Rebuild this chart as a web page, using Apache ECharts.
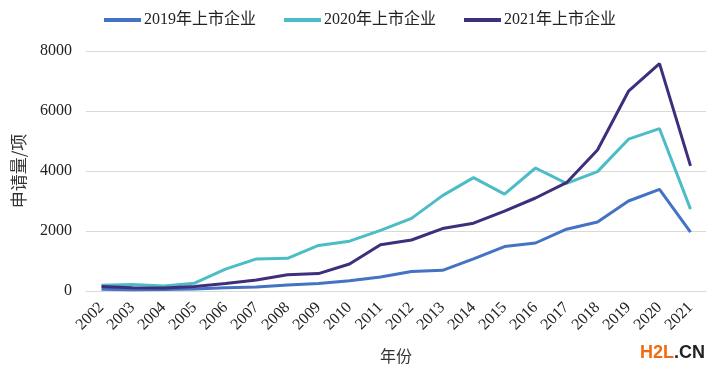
<!DOCTYPE html>
<html>
<head>
<meta charset="utf-8">
<script src="https://cdn.jsdelivr.net/npm/echarts@6/dist/echarts.min.js"></script>
<style>
html,body{margin:0;padding:0;background:#fff;}
#main{width:720px;height:377px;}
</style>
</head>
<body>
<div id="main"></div>
<script>
var years = ['2002','2003','2004','2005','2006','2007','2008','2009','2010','2011',
             '2012','2013','2014','2015','2016','2017','2018','2019','2020','2021'];
var ipo2019 = [60, 40, 50, 70, 110, 130, 200, 250, 340, 470, 650, 690, 1070, 1480, 1600, 2060, 2300, 3000, 3390, 1960];
var ipo2020 = [190, 220, 170, 260, 730, 1070, 1090, 1520, 1660, 2020, 2420, 3180, 3780, 3230, 4100, 3590, 3980, 5060, 5410, 2730];
var ipo2021 = [150, 110, 100, 150, 250, 370, 540, 580, 900, 1540, 1700, 2080, 2260, 2660, 3100, 3610, 4700, 6660, 7580, 4170];
var yTicks = [0, 2000, 4000, 6000, 8000];

var serif = '"Liberation Serif", "Noto Sans CJK SC", serif';
var cjk = '"Noto Sans CJK SC", sans-serif';

var chart = echarts.init(document.getElementById('main'));

function line(name, data, color) {
	return {
		name: name,
		type: 'line',
		data: data,
		symbol: 'none',
		lineStyle: { width: 3, color: color },
		itemStyle: { color: color }
	};
}

var option = {
	animation: false,
	backgroundColor: '#fff',
	legend: {
		top: 7,
		left: 'center',
		itemWidth: 37,
		itemHeight: 4,
		itemGap: 28,
		icon: 'rect',
		textStyle: { fontFamily: serif, fontSize: 16, color: '#222', padding: [0, 0, 0, -2] },
		data: ['2019年上市企业', '2020年上市企业', '2021年上市企业']
	},
	grid: { left: 86, right: 14, top: 51, bottom: 86 },
	xAxis: {
		type: 'category',
		data: years,
		name: '年份',
		nameLocation: 'middle',
		nameGap: 57,
		nameTextStyle: { fontFamily: cjk, fontSize: 16, color: '#333' },
		axisLine: { lineStyle: { color: '#d9d9d9', width: 1 } },
		axisTick: { show: false },
		axisLabel: { rotate: 45, interval: 0, margin: 14, fontFamily: serif, fontSize: 16, color: '#222' }
	},
	yAxis: {
		type: 'value',
		min: yTicks[0],
		max: yTicks[yTicks.length - 1],
		interval: 2000,
		name: '申请量/项',
		nameLocation: 'middle',
		nameGap: 59,
		nameTextStyle: { fontFamily: cjk, fontSize: 17, color: '#333' },
		axisLine: { show: false },
		axisTick: { show: false },
		axisLabel: {
			margin: 14, fontFamily: serif, fontSize: 16, color: '#222',
			formatter: function (v) { return String(v); }
		},
		splitLine: { lineStyle: { color: '#d9d9d9', width: 1 } }
	},
	graphic: [{
		type: 'text',
		right: 15,
		bottom: 15,
		style: {
			text: '{a|H2L}{b|.CN}',
			rich: {
				a: { fill: '#f26a10', fontSize: 18, fontWeight: 'bold', fontFamily: 'Liberation Sans, sans-serif' },
				b: { fill: '#222', fontSize: 18, fontWeight: 'bold', fontFamily: 'Liberation Sans, sans-serif' }
			}
		}
	}],
	series: [
		line('2019年上市企业', ipo2019, '#4472c4'),
		line('2020年上市企业', ipo2020, '#4cbdc6'),
		line('2021年上市企业', ipo2021, '#3f2e7c')
	]
};

chart.setOption(option);
</script>
</body>
</html>
